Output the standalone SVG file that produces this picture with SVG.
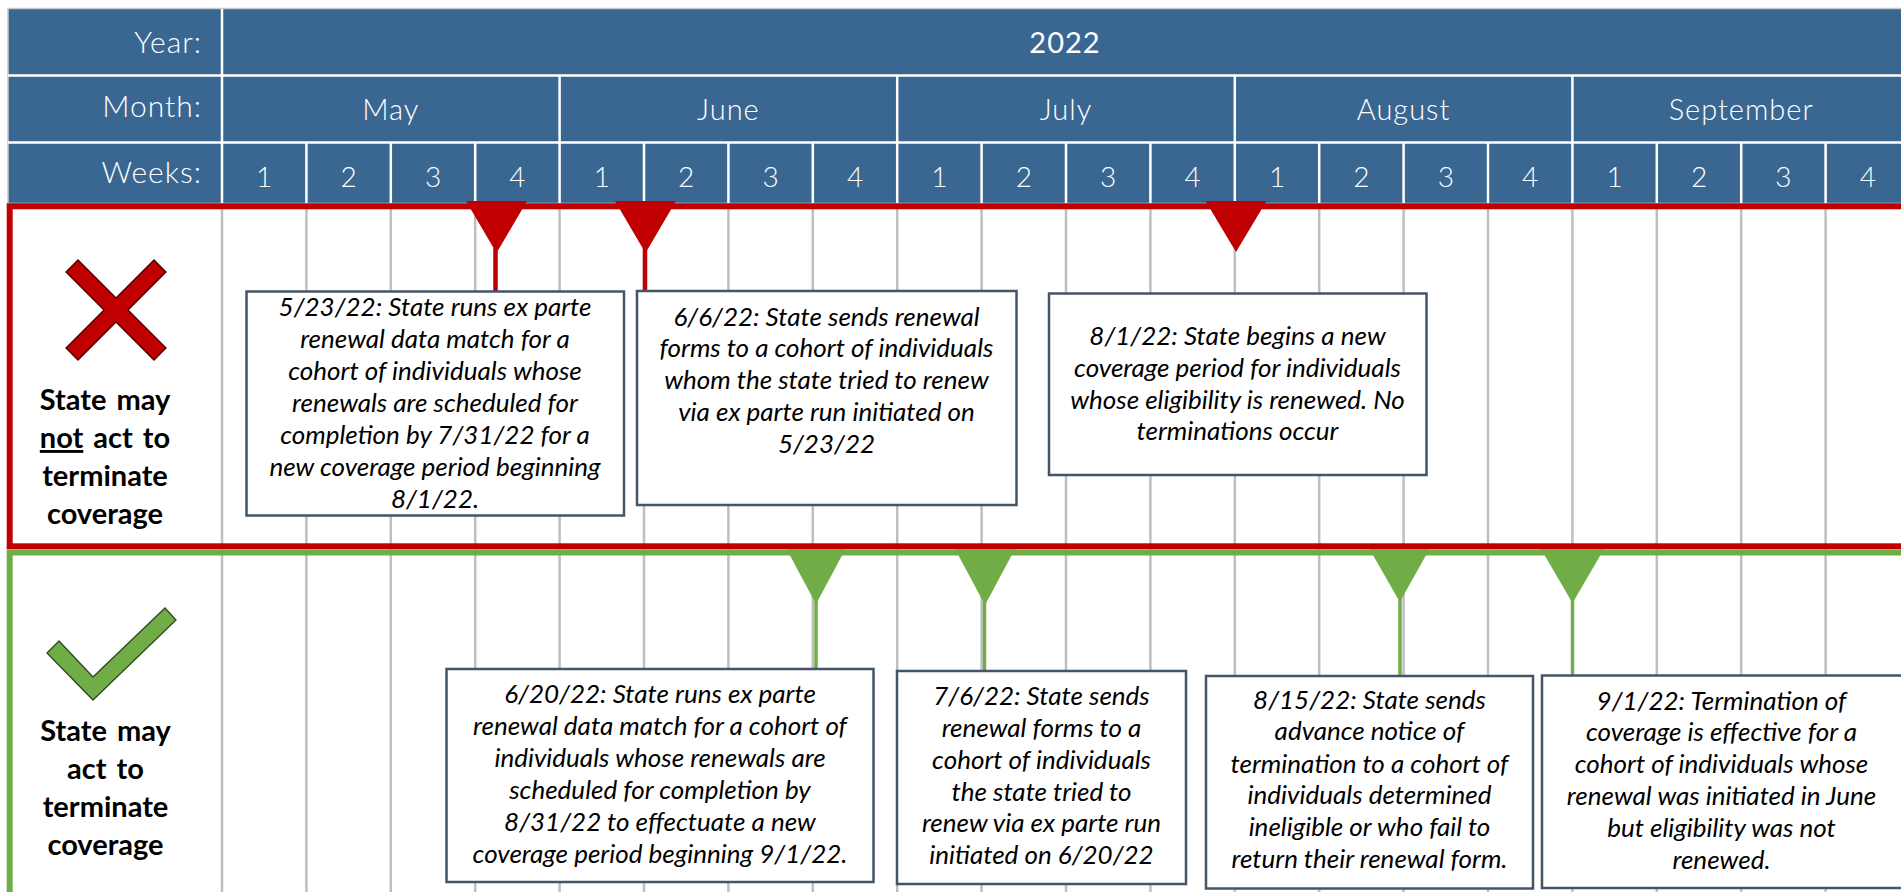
<svg xmlns="http://www.w3.org/2000/svg" width="1901" height="892" viewBox="0 0 1901 892">
<style>
.hdr{font-family:Lato,"Open Sans","Liberation Sans",sans-serif;fill:#fff;font-weight:300;font-size:29px;letter-spacing:1px}
.hl{text-anchor:end;font-size:30px}
.hc{text-anchor:middle}
.wk{font-family:Lato,"Open Sans","Liberation Sans",sans-serif;fill:#fff;font-weight:300;font-size:28px;text-anchor:middle}
.wl{stroke:#fff;stroke-width:2.5}
.grid{stroke:#bfbfbf;stroke-width:2.5}
.box{fill:#fff;stroke:#44546a;stroke-width:2.5}
.bt{font-family:Lato,"Open Sans","Liberation Sans",sans-serif;font-style:italic;font-size:26px;text-anchor:middle;fill:#000}
.side{font-family:Lato,"Open Sans","Liberation Sans",sans-serif;font-weight:700;font-size:29px;text-anchor:middle;fill:#000;word-spacing:3px}
.rtri{fill:#c00000}
.rstem{stroke:#c00000;stroke-width:4.5}
.gtri{fill:#70ad47}
.gstem{stroke:#70ad47;stroke-width:3.5}
</style>

<g id="header">
  <rect x="8" y="8.5" width="1900" height="195" fill="#3a6791" stroke="#c9c9c9" stroke-width="1.5"/>
  <line class="wl" x1="8" y1="75.5" x2="1901" y2="75.5"/>
  <line class="wl" x1="8" y1="142.5" x2="1901" y2="142.5"/>
  <line class="wl" x1="222" y1="9" x2="222" y2="203"/>
  <g>
    <line class="wl" x1="559.6" y1="75.5" x2="559.6" y2="203"/>
    <line class="wl" x1="897.2" y1="75.5" x2="897.2" y2="203"/>
    <line class="wl" x1="1234.8" y1="75.5" x2="1234.8" y2="203"/>
    <line class="wl" x1="1572.4" y1="75.5" x2="1572.4" y2="203"/>
    <line class="wl" x1="306.4" y1="142.5" x2="306.4" y2="203"/>
    <line class="wl" x1="390.8" y1="142.5" x2="390.8" y2="203"/>
    <line class="wl" x1="475.2" y1="142.5" x2="475.2" y2="203"/>
    <line class="wl" x1="644" y1="142.5" x2="644" y2="203"/>
    <line class="wl" x1="728.4" y1="142.5" x2="728.4" y2="203"/>
    <line class="wl" x1="812.8" y1="142.5" x2="812.8" y2="203"/>
    <line class="wl" x1="981.6" y1="142.5" x2="981.6" y2="203"/>
    <line class="wl" x1="1066" y1="142.5" x2="1066" y2="203"/>
    <line class="wl" x1="1150.4" y1="142.5" x2="1150.4" y2="203"/>
    <line class="wl" x1="1319.2" y1="142.5" x2="1319.2" y2="203"/>
    <line class="wl" x1="1403.6" y1="142.5" x2="1403.6" y2="203"/>
    <line class="wl" x1="1488" y1="142.5" x2="1488" y2="203"/>
    <line class="wl" x1="1656.8" y1="142.5" x2="1656.8" y2="203"/>
    <line class="wl" x1="1741.2" y1="142.5" x2="1741.2" y2="203"/>
    <line class="wl" x1="1825.6" y1="142.5" x2="1825.6" y2="203"/>
  </g>
  <text class="hdr hl" x="202" y="53">Year:</text>
  <text class="hdr hc" x="1065" y="53" style="font-weight:400">2022</text>
  <text class="hdr hl" x="202" y="117">Month:</text>
  <text class="hdr hc" x="390.8" y="119.5">May</text>
  <text class="hdr hc" x="728.4" y="119.5">June</text>
  <text class="hdr hc" x="1066" y="119.5">July</text>
  <text class="hdr hc" x="1403.6" y="119.5">August</text>
  <text class="hdr hc" x="1741.2" y="119.5">September</text>
  <text class="hdr hl" x="202" y="183">Weeks:</text>
  <text class="wk" x="264.2" y="186.5">1</text>
  <text class="wk" x="348.6" y="186.5">2</text>
  <text class="wk" x="433" y="186.5">3</text>
  <text class="wk" x="517.4" y="186.5">4</text>
  <text class="wk" x="601.8" y="186.5">1</text>
  <text class="wk" x="686.2" y="186.5">2</text>
  <text class="wk" x="770.6" y="186.5">3</text>
  <text class="wk" x="855" y="186.5">4</text>
  <text class="wk" x="939.4" y="186.5">1</text>
  <text class="wk" x="1023.8" y="186.5">2</text>
  <text class="wk" x="1108.2" y="186.5">3</text>
  <text class="wk" x="1192.6" y="186.5">4</text>
  <text class="wk" x="1277" y="186.5">1</text>
  <text class="wk" x="1361.4" y="186.5">2</text>
  <text class="wk" x="1445.8" y="186.5">3</text>
  <text class="wk" x="1530.2" y="186.5">4</text>
  <text class="wk" x="1614.6" y="186.5">1</text>
  <text class="wk" x="1699" y="186.5">2</text>
  <text class="wk" x="1783.4" y="186.5">3</text>
  <text class="wk" x="1867.8" y="186.5">4</text>
</g>

<g id="grid">
  <line class="grid" x1="222" y1="209" x2="222" y2="892"/>
  <line class="grid" x1="306.4" y1="209" x2="306.4" y2="892"/>
  <line class="grid" x1="390.8" y1="209" x2="390.8" y2="892"/>
  <line class="grid" x1="475.2" y1="209" x2="475.2" y2="892"/>
  <line class="grid" x1="559.6" y1="209" x2="559.6" y2="892"/>
  <line class="grid" x1="644" y1="209" x2="644" y2="892"/>
  <line class="grid" x1="728.4" y1="209" x2="728.4" y2="892"/>
  <line class="grid" x1="812.8" y1="209" x2="812.8" y2="892"/>
  <line class="grid" x1="897.2" y1="209" x2="897.2" y2="892"/>
  <line class="grid" x1="981.6" y1="209" x2="981.6" y2="892"/>
  <line class="grid" x1="1066" y1="209" x2="1066" y2="892"/>
  <line class="grid" x1="1150.4" y1="209" x2="1150.4" y2="892"/>
  <line class="grid" x1="1234.8" y1="209" x2="1234.8" y2="892"/>
  <line class="grid" x1="1319.2" y1="209" x2="1319.2" y2="892"/>
  <line class="grid" x1="1403.6" y1="209" x2="1403.6" y2="892"/>
  <line class="grid" x1="1488" y1="209" x2="1488" y2="892"/>
  <line class="grid" x1="1572.4" y1="209" x2="1572.4" y2="892"/>
  <line class="grid" x1="1656.8" y1="209" x2="1656.8" y2="892"/>
  <line class="grid" x1="1741.2" y1="209" x2="1741.2" y2="892"/>
  <line class="grid" x1="1825.6" y1="209" x2="1825.6" y2="892"/>
</g>

<g id="lane-may-not">
  <rect x="9.7" y="206.3" width="1910" height="340" fill="none" stroke="#c00000" stroke-width="6"/>
  <polygon points="66,272 78,260 116,298 154,260 166,272 128,310 166,348 154,360 116,322 78,360 66,348 104,310" fill="#c00000" stroke="#4a0000" stroke-width="1.3"/>
  <text class="side" x="105" y="410">State may</text>
  <text class="side" x="105" y="448"><tspan text-decoration="underline">not</tspan> act to</text>
  <text class="side" x="105" y="486">terminate</text>
  <text class="side" x="105" y="524">coverage</text>
</g>

<g id="lane-may">
  <rect x="9.7" y="552.5" width="1910" height="360" fill="none" stroke="#70ad47" stroke-width="6"/>
  <polygon points="47,653 59,641 93,677 165,608 176,620 93,700" fill="#70ad47" stroke="#2d4a1c" stroke-width="1.3"/>
  <text class="side" x="105.5" y="741">State may</text>
  <text class="side" x="105.5" y="779">act to</text>
  <text class="side" x="105.5" y="817">terminate</text>
  <text class="side" x="105.5" y="855">coverage</text>
</g>

<g id="connectors">
  <polygon class="rtri" points="466,201 527,201 496.5,253"/>
  <line class="rstem" x1="495.5" y1="248" x2="495.5" y2="291"/>
  <polygon class="rtri" points="615,201 676,201 645.5,253"/>
  <line class="rstem" x1="645" y1="248" x2="645" y2="291"/>
  <polygon class="rtri" points="1205.5,201 1266.5,201 1236,252"/>
  <polygon class="gtri" points="786.5,549 845.5,549 816,604"/>
  <line class="gstem" x1="816" y1="600" x2="816" y2="669"/>
  <polygon class="gtri" points="955,549 1015,549 985,605"/>
  <line class="gstem" x1="984.5" y1="600" x2="984.5" y2="671"/>
  <polygon class="gtri" points="1369.5,549 1429.5,549 1399.8,602"/>
  <line class="gstem" x1="1400" y1="598" x2="1400" y2="676"/>
  <polygon class="gtri" points="1541,549 1604,549 1572.5,603"/>
  <line class="gstem" x1="1572.5" y1="598" x2="1572.5" y2="675.5"/>
</g>

<g id="node-0523">
  <rect class="box" x="246.5" y="291.5" width="377.5" height="224"/>
  <text class="bt" x="435" y="316">5/23/22: State runs ex parte</text>
  <text class="bt" x="435" y="348">renewal data match for a</text>
  <text class="bt" x="435" y="380">cohort of individuals whose</text>
  <text class="bt" x="435" y="412">renewals are scheduled for</text>
  <text class="bt" x="435" y="444">completion by 7/31/22 for a</text>
  <text class="bt" x="435" y="476">new coverage period beginning</text>
  <text class="bt" x="435" y="508">8/1/22.</text>
</g>

<g id="node-0606">
  <rect class="box" x="637" y="291" width="379.5" height="214"/>
  <text class="bt" x="826.5" y="326">6/6/22: State sends renewal</text>
  <text class="bt" x="826.5" y="357">forms to a cohort of individuals</text>
  <text class="bt" x="826.5" y="389">whom the state tried to renew</text>
  <text class="bt" x="826.5" y="421">via ex parte run initiated on</text>
  <text class="bt" x="826.5" y="453">5/23/22</text>
</g>

<g id="node-0801">
  <rect class="box" x="1049" y="293.5" width="377.5" height="181.5"/>
  <text class="bt" x="1237.5" y="345">8/1/22: State begins a new</text>
  <text class="bt" x="1237.5" y="377">coverage period for individuals</text>
  <text class="bt" x="1237.5" y="408.5">whose eligibility is renewed. No</text>
  <text class="bt" x="1237.5" y="440">terminations occur</text>
</g>

<g id="node-0620">
  <rect class="box" x="446.5" y="669" width="427" height="213"/>
  <text class="bt" x="660" y="703">6/20/22: State runs ex parte</text>
  <text class="bt" x="660" y="734.5">renewal data match for a cohort of</text>
  <text class="bt" x="660" y="766.5">individuals whose renewals are</text>
  <text class="bt" x="660" y="798.5">scheduled for completion by</text>
  <text class="bt" x="660" y="830.5">8/31/22 to effectuate a new</text>
  <text class="bt" x="660" y="862.5">coverage period beginning 9/1/22.</text>
</g>

<g id="node-0706">
  <rect class="box" x="897" y="671" width="289" height="213"/>
  <text class="bt" x="1041.5" y="705">7/6/22: State sends</text>
  <text class="bt" x="1041.5" y="737">renewal forms to a</text>
  <text class="bt" x="1041.5" y="768.5">cohort of individuals</text>
  <text class="bt" x="1041.5" y="800.5">the state tried to</text>
  <text class="bt" x="1041.5" y="832">renew via ex parte run</text>
  <text class="bt" x="1041.5" y="864">initiated on 6/20/22</text>
</g>

<g id="node-0815">
  <rect class="box" x="1206" y="676" width="327" height="212.5"/>
  <text class="bt" x="1369.5" y="708.5">8/15/22: State sends</text>
  <text class="bt" x="1369.5" y="740">advance notice of</text>
  <text class="bt" x="1369.5" y="772.5">termination to a cohort of</text>
  <text class="bt" x="1369.5" y="804">individuals determined</text>
  <text class="bt" x="1369.5" y="836">ineligible or who fail to</text>
  <text class="bt" x="1369.5" y="867.5">return their renewal form.</text>
</g>

<g id="node-0901">
  <rect class="box" x="1542" y="675.5" width="380" height="212.5"/>
  <text class="bt" x="1721.5" y="709.5">9/1/22: Termination of</text>
  <text class="bt" x="1721.5" y="741">coverage is effective for a</text>
  <text class="bt" x="1721.5" y="773">cohort of individuals whose</text>
  <text class="bt" x="1721.5" y="805">renewal was initiated in June</text>
  <text class="bt" x="1721.5" y="837">but eligibility was not</text>
  <text class="bt" x="1721.5" y="868.5">renewed.</text>
</g>
</svg>
